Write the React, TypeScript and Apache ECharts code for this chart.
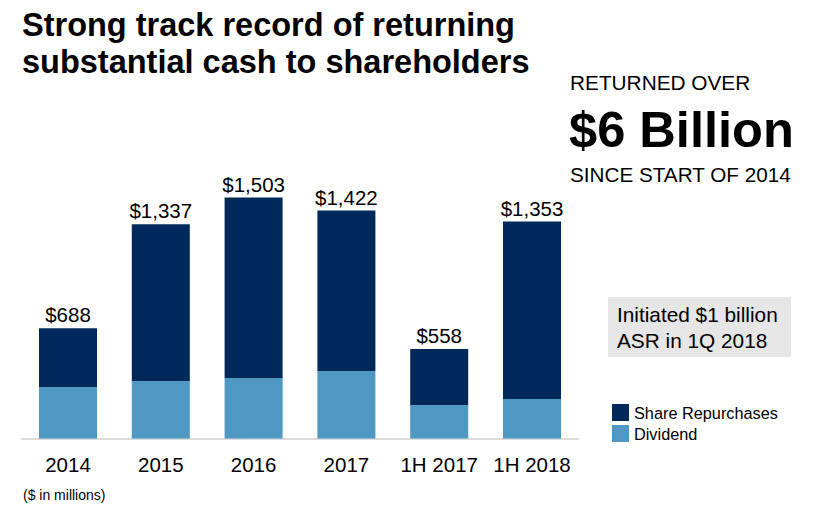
import React, { useEffect, useRef } from "react";
import * as echarts from "echarts";

const categories = ["2014", "2015", "2016", "2017", "1H 2017", "1H 2018"];
const totals = [688, 1337, 1503, 1422, 558, 1353];
const dividend = [321, 359, 378, 421, 209, 247];
const repurchases = [367, 978, 1125, 1001, 349, 1106];
const titleLines = ["Strong track record of returning", "substantial cash to shareholders"];
const calloutLines = ["Initiated $1 billion", "ASR in 1Q 2018"];

const FONT = "'Liberation Sans', Arial, Helvetica, sans-serif";
const DARK = "#00295B";
const LIGHT = "#4F98C3";

function fmt(v: number) {
  return "$" + v.toString().replace(/\B(?=(\d{3})+(?!\d))/g, ",");
}

export default function App() {
  const ref = useRef<HTMLDivElement>(null);
  useEffect(() => {
    if (!ref.current) return;
    const chart = echarts.init(ref.current, undefined, { renderer: "svg" });
    chart.setOption({
      animation: false,
      backgroundColor: "#ffffff",
      textStyle: { fontFamily: FONT },
      grid: { left: 21.6, right: 817 - 578.4, top: 182, bottom: 70.5, containLabel: false },
      legend: {
        orient: "vertical",
        left: 607,
        top: 399,
        itemWidth: 17,
        itemHeight: 17,
        itemGap: 4,
        icon: "rect",
        data: ["Share Repurchases", "Dividend"],
        textStyle: { fontFamily: FONT, fontSize: 16.3, color: "#000" },
      },
      xAxis: {
        type: "category",
        data: categories,
        axisLine: { lineStyle: { color: "#d0d0d0", width: 1.5 } },
        axisTick: { show: false },
        axisLabel: { color: "#000", fontSize: 20.5, fontFamily: FONT, margin: 15, interval: 0, hideOverlap: false },
      },
      yAxis: {
        type: "value",
        min: 0,
        max: 1600,
        show: false,
        splitLine: { show: false },
      },
      series: [
        {
          name: "Dividend",
          type: "bar",
          stack: "total",
          data: dividend,
          barWidth: 58,
          itemStyle: { color: LIGHT },
        },
        {
          name: "Share Repurchases",
          type: "bar",
          stack: "total",
          data: repurchases,
          barWidth: 58,
          itemStyle: { color: DARK },
          label: {
            show: true,
            position: "top",
            distance: 3,
            fontSize: 20.5,
            fontFamily: FONT,
            color: "#000",
            formatter: (p: any) => fmt(totals[p.dataIndex]),
          },
        },
      ],
      graphic: [
        {
          type: "text",
          x: 22,
          y: 25,
          style: { text: titleLines[0], font: `bold 32.5px ${FONT}`, fill: "#000", verticalAlign: "middle" },
        },
        {
          type: "text",
          x: 22,
          y: 62,
          style: { text: titleLines[1], font: `bold 32.5px ${FONT}`, fill: "#000", verticalAlign: "middle" },
        },
        {
          type: "text",
          x: 570,
          y: 82,
          style: { text: "RETURNED OVER", font: `20.8px ${FONT}`, fill: "#000", verticalAlign: "middle" },
        },
        {
          type: "text",
          x: 569,
          y: 129,
          style: { text: "$6 Billion", font: `bold 50.6px ${FONT}`, fill: "#000", verticalAlign: "middle" },
        },
        {
          type: "text",
          x: 570,
          y: 174,
          style: { text: "SINCE START OF 2014", font: `20.7px ${FONT}`, fill: "#000", verticalAlign: "middle" },
        },
        {
          type: "rect",
          shape: { x: 608, y: 297, width: 183, height: 60 },
          style: { fill: "#e6e6e6" },
        },
        {
          type: "text",
          x: 617,
          y: 314,
          style: { text: calloutLines[0], font: `20.8px ${FONT}`, fill: "#000", verticalAlign: "middle" },
        },
        {
          type: "text",
          x: 617,
          y: 340,
          style: { text: calloutLines[1], font: `20.8px ${FONT}`, fill: "#000", verticalAlign: "middle" },
        },
        {
          type: "text",
          x: 23,
          y: 495,
          style: { text: "($ in millions)", font: `14px ${FONT}`, fill: "#000", verticalAlign: "middle" },
        },
      ],
    });
    return () => chart.dispose();
  }, []);
  return (
    <div
      ref={ref}
      style={{ position: "fixed", left: 0, top: 0, width: 817, height: 509 }}
    />
  );
}
